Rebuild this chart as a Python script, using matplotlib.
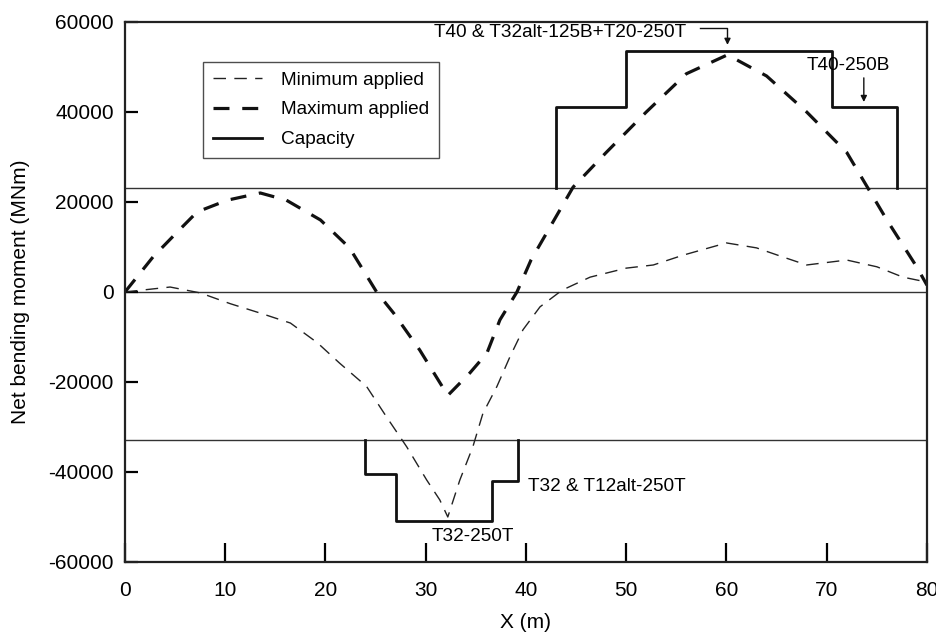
import numpy as np
import matplotlib
matplotlib.use("Agg")
import matplotlib.pyplot as plt

plt.rcParams['font.family'] = ['Liberation Sans', 'DejaVu Sans']
plt.rcParams['axes.unicode_minus'] = False

# --- data ---
x_max = [0, 2.8, 5.2, 7.2, 10.2, 13.5, 16.1, 19.5, 22.4, 25.1, 26.8, 29.4, 32.2,
         34.4, 36.1, 37.4, 39.1, 40.5, 44.7, 48, 52, 56, 60.1, 64, 68, 72, 76, 79, 80]
m_max = [0, 7800, 13300, 17800, 20400, 22000, 20400, 16000, 9800, 0, -4700, -12900, -23000,
         -18000, -13600, -6200, 0, 7100, 23300, 31000, 40000, 48500, 52700, 48000, 40000,
         31000, 16000, 5500, 1500]

x_min = [0, 4.5, 7.5, 10.5, 13.5, 16.5, 19.2, 21.4, 24.1, 26.1, 28.1, 30.1, 31.4, 32.2,
         33.4, 34.7, 35.7, 37.1, 38.4, 39.7, 41.4, 43.6, 46.4, 50, 52.7, 55.7, 60, 63,
         65.6, 68, 72, 75, 77.6, 80]
m_min = [0, 1100, -200, -2600, -4700, -6900, -11300, -15800, -21000, -27800, -34400,
         -41800, -46200, -50000, -41800, -34400, -27000, -21000, -14400, -8400, -3300,
         400, 3300, 5300, 6000, 8200, 10900, 9800, 7800, 6000, 7100, 5600, 3300, 2200]

# capacity envelopes (step outlines)
cap_pos_x = [43, 43, 50, 50, 70.5, 70.5, 77, 77]
cap_pos_y = [23000, 41000, 41000, 53500, 53500, 41000, 41000, 23000]
cap_neg_x = [23.9, 23.9, 27, 27, 36.6, 36.6, 39.2, 39.2]
cap_neg_y = [-33000, -40500, -40500, -50800, -50800, -42000, -42000, -33000]

ref_levels = [23000, 0, -33000]

fig = plt.figure(figsize=(9.37, 6.32), dpi=100)
ax = fig.add_axes([0.1334, 0.1108, 0.8559, 0.8544])

for lv in ref_levels:
    ax.axhline(lv, color='#333333', lw=1.0, zorder=1)

ax.plot(x_min, m_min, color='#222222', lw=1.0, dashes=(9, 6), label='Minimum applied')
ax.plot(x_max, m_max, color='#111111', lw=2.3, dashes=(5, 4), label='Maximum applied')
ax.plot(cap_pos_x, cap_pos_y, color='#111111', lw=2.0, label='Capacity')
ax.plot(cap_neg_x, cap_neg_y, color='#111111', lw=2.0)

fs = 15
afs = 13.7
ax.text(56, 57600, 'T40 & T32alt-125B+T20-250T', ha='right', va='center', fontsize=afs)
ax.plot([57.4, 60.1, 60.1], [58700, 58700, 56500], color='#111111', lw=1.0)
ax.annotate('', xy=(60.1, 54300), xytext=(60.1, 56800),
            arrowprops=dict(arrowstyle='-|>', color='#111111', lw=1.0, mutation_scale=9))
ax.text(72.2, 50300, 'T40-250B', ha='center', va='center', fontsize=afs)
ax.annotate('', xy=(73.7, 41600), xytext=(73.7, 48200),
            arrowprops=dict(arrowstyle='-|>', color='#111111', lw=1.0, mutation_scale=9))
ax.text(40.2, -43300, 'T32 & T12alt-250T', ha='left', va='center', fontsize=afs)
ax.text(34.7, -54400, 'T32-250T', ha='center', va='center', fontsize=afs)

ax.set_xlim(0, 80)
ax.set_ylim(-60000, 60000)
ax.set_xticks(np.arange(0, 81, 10))
ax.set_yticks(np.arange(-60000, 60001, 20000))
ax.tick_params(axis='x', direction='in', length=14, width=1.6, labelsize=fs, pad=14)
ax.tick_params(axis='y', direction='in', length=9.5, width=1.6, labelsize=fs, pad=8)
for s in ax.spines.values():
    s.set_linewidth(1.6)
    s.set_color('#222222')

ax.set_xlabel('X (m)', fontsize=fs, labelpad=9)
ax.set_ylabel('Net bending moment (MNm)', fontsize=fs, labelpad=13)

leg = ax.legend(loc='upper left', bbox_to_anchor=(0.0973, 0.926), fontsize=afs,
                frameon=True, fancybox=False, edgecolor='#222222', handlelength=2.6,
                borderaxespad=0, borderpad=0.5, labelspacing=0.65, handletextpad=1.0)
leg.get_frame().set_linewidth(1.0)

fig.savefig('out.png', dpi=100)
